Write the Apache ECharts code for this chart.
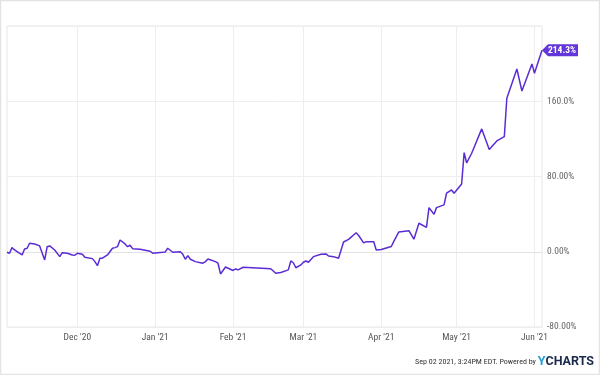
<!DOCTYPE html>
<html><head><meta charset="utf-8">
<script src="https://cdn.jsdelivr.net/npm/echarts@6/dist/echarts.min.js"></script>
<style>html,body{margin:0;padding:0;background:#fff}#c{width:600px;height:375px}</style>
</head><body><div id="c"></div>
<script>
const dates = ['2020-11-03','2020-11-04','2020-11-05','2020-11-06','2020-11-09','2020-11-10','2020-11-11','2020-11-12','2020-11-14','2020-11-16','2020-11-18','2020-11-19','2020-11-20','2020-11-22','2020-11-24','2020-11-25','2020-11-27','2020-11-29','2020-11-30',
'2020-12-01','2020-12-03','2020-12-04','2020-12-07','2020-12-08','2020-12-09','2020-12-10','2020-12-11','2020-12-13','2020-12-15','2020-12-16','2020-12-17','2020-12-18','2020-12-20','2020-12-21','2020-12-22','2020-12-23','2020-12-26','2020-12-30','2020-12-31',
'2021-01-04','2021-01-05','2021-01-06','2021-01-08','2021-01-11','2021-01-12','2021-01-13','2021-01-14','2021-01-15','2021-01-17','2021-01-19','2021-01-20','2021-01-21','2021-01-22','2021-01-25','2021-01-26','2021-01-27','2021-01-29',
'2021-02-01','2021-02-02','2021-02-03','2021-02-05','2021-02-16','2021-02-18','2021-02-20','2021-02-23','2021-02-24','2021-02-25','2021-02-26','2021-02-28',
'2021-03-01','2021-03-02','2021-03-03','2021-03-05','2021-03-08','2021-03-10','2021-03-11','2021-03-13','2021-03-15','2021-03-17','2021-03-19','2021-03-22','2021-03-23','2021-03-25','2021-03-26','2021-03-29','2021-03-30',
'2021-04-01','2021-04-05','2021-04-06','2021-04-08','2021-04-12','2021-04-14','2021-04-16','2021-04-19','2021-04-20','2021-04-22','2021-04-23','2021-04-26','2021-04-27','2021-04-29','2021-04-30',
'2021-05-03','2021-05-04','2021-05-05','2021-05-07','2021-05-11','2021-05-14','2021-05-17','2021-05-20','2021-05-21','2021-05-25','2021-05-27','2021-05-31',
'2021-06-01','2021-06-04'];
const values = [-0.5,-1.6,4.4,1.9,-3.4,3.0,3.7,9.0,8.3,6.2,-8.7,5.4,6.2,1.9,-5.2,-1.0,-1.6,-3.4,-3.7,
-1.6,-2.7,-5.8,-7.3,-10.5,-14.8,-6.9,-6.9,-3.4,3.7,4.4,5.4,12.5,8.3,5.4,6.9,3.3,2.7,0.5,-1.6,
-0.5,-0.2,3.7,-0.5,0.1,-2.7,-8.0,-4.1,-8.0,-10.5,-11.6,-12.2,-10.5,-7.7,-10.5,-12.2,-23.6,-16.2,
-19.9,-18.3,-19.3,-16.5,-18.0,-22.9,-22.0,-19.3,-9.8,-11.7,-17.0,-14.0,
-11.2,-9.8,-11.2,-5.2,-2.6,-2.3,-4.5,-5.2,-6.9,10.4,13.1,20.2,17.3,9.4,10.7,10.7,1.9,
2.4,5.6,11.0,21.1,22.4,13.3,30.3,26.0,46.9,39.9,46.9,49.8,62.2,65.7,62.2,
72.1,105.4,94.4,104.7,130.6,108.8,117.8,122.4,163.2,194.3,170.9,199.7,
189.8,214.3];
const xTickDates = ['2020-12-01','2021-01-01','2021-02-01','2021-03-01','2021-04-01','2021-05-01','2021-06-01'];
const xTickLabels = ["Dec '20","Jan '21","Feb '21","Mar '21","Apr '21","May '21","Jun '21"];
const yTickValues = [-80,0,80,160,240];
const yTickLabels = ['-80.00%','0.00%','80.00%','160.0%',''];
const footerText = 'Sep 02 2021, 3:24PM EDT. Powered by ';

function ts(s){const p=s.split('-').map(Number);return new Date(p[0],p[1]-1,p[2]).getTime();}
const xTickTs = xTickDates.map(ts);
const FONT = "'Roboto Condensed', Roboto, sans-serif";
const chart = echarts.init(document.getElementById('c'));
const last = values.length-1;
chart.setOption({
  animation:false,
  backgroundColor:'#fff',
  grid:{left:7,right:58,top:26,bottom:48,show:true,borderColor:'#e6e6e6',borderWidth:1},
  xAxis:{type:'value',min:ts(dates[0]),max:ts(dates[last]),
    axisLine:{show:true,lineStyle:{color:'#e2e2e2'}},
    axisTick:{show:false,customValues:xTickTs},
    splitLine:{show:true,lineStyle:{color:'#eeeeee',width:1}},
    axisLabel:{customValues:xTickTs,color:'#555',fontSize:9.5,fontFamily:FONT,margin:6,
      formatter:function(v){const i=xTickTs.indexOf(v);return i>=0?xTickLabels[i]:'';}}},
  yAxis:{type:'value',position:'right',min:-80,max:240,interval:80,
    axisLine:{show:false},axisTick:{show:false},
    splitLine:{show:true,lineStyle:{color:'#eeeeee',width:1}},
    axisLabel:{color:'#666',fontSize:9.5,fontFamily:FONT,margin:5,padding:[0,0,6,0],
      formatter:function(v){const i=yTickValues.indexOf(v);return i>=0?yTickLabels[i]:'';}}},
  series:[{type:'line',data:dates.map((d,i)=>[ts(d),values[i]]),showSymbol:false,
    lineStyle:{color:'#5a2dd4',width:1.5},itemStyle:{color:'#5a2dd4'},
    markPoint:{symbol:'path://M0,6 L6,0 L36,0 L36,12 L6,12 Z',symbolSize:[36,12],symbolOffset:[18,0],
      itemStyle:{color:'#6236d9'},
      label:{show:true,color:'#fff',fontSize:9.5,fontWeight:'bold',fontFamily:FONT,offset:[2,0],
        formatter:function(p){return p.value.toFixed(1)+'%';}},
      data:[{coord:[ts(dates[last]),values[last]],value:values[last]}]}}],
  graphic:[
    {type:'rect',shape:{x:0.5,y:0.5,width:599,height:374},style:{fill:'none',stroke:'#e3e3e3',lineWidth:1.5},silent:true},
    {type:'text',x:594,y:362,style:{text:'{a|'+footerText+'}{y|Y}{c|CHARTS}',align:'right',verticalAlign:'middle',
      rich:{a:{fontSize:8,fontFamily:FONT,fill:'#333'},y:{fontSize:12.5,fontWeight:'bold',fontFamily:'Roboto, sans-serif',fill:'#2a9fd8'},c:{fontSize:12.5,fontWeight:'bold',fontFamily:'Roboto, sans-serif',fill:'#1b2a4a'}}}}
  ]
});
</script></body></html>
